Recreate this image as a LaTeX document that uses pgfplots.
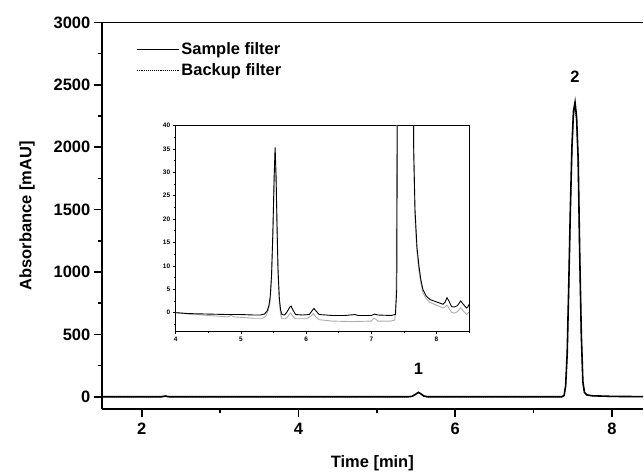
\documentclass[border=0pt]{standalone}
\usepackage{fontspec}
\setmainfont{Liberation Sans}
\usepackage{pgfplots}
\pgfplotsset{compat=1.18}
\usepackage{pgfplotstable}

\pgfplotstableread{
x y
1.50 0
2.25 0
2.30 6
2.35 0
4.00 0
5.40 0
5.45 4
5.50 22
5.53 35
5.56 25
5.60 6
5.65 0
7.36 0
7.39 10
7.41 88
7.43 350
7.45 900
7.47 1500
7.49 2000
7.51 2290
7.53 2360
7.55 2240
7.57 1900
7.59 1130
7.61 500
7.63 120
7.65 35
7.68 15
7.75 8
8.00 3
8.40 1
}\mainsample

\pgfplotstableread{
x y
1.50 -2
2.25 -2
2.30 3
2.35 -2
4.00 -2
5.40 -2
5.45 2
5.50 20
5.53 34
5.56 23
5.60 4
5.65 -2
7.36 -2
7.39 8
7.41 80
7.43 330
7.45 870
7.47 1460
7.49 1950
7.51 2250
7.53 2310
7.55 2200
7.57 1850
7.59 1100
7.61 480
7.63 110
7.65 33
7.68 13
7.75 6
8.00 1
8.40 0
}\mainbackup

\pgfplotstableread{
x y
4.00 0.0
4.20 -0.2
4.50 -0.3
4.80 -0.4
5.00 -0.4
5.20 -0.5
5.30 -0.5
5.36 -0.3
5.40 0.3
5.43 1.5
5.45 3.5
5.47 8
5.49 17
5.51 29
5.525 35.3
5.54 29
5.555 18
5.57 9
5.59 3
5.61 0.5
5.63 -0.4
5.67 -0.5
5.71 0.2
5.75 1.2
5.77 1.4
5.80 0.5
5.84 -0.4
5.95 -0.5
6.05 -0.4
6.09 0.4
6.12 0.9
6.15 0.4
6.20 -0.4
6.40 -0.6
6.60 -0.6
6.75 -0.4
6.80 -0.6
7.00 -0.6
7.05 -0.3
7.10 -0.5
7.30 -0.6
7.37 -0.4
7.39 5
7.41 88
7.63 120
7.65 35
7.67 22
7.70 14
7.73 10
7.76 7
7.79 5
7.84 3.6
7.90 2.8
8.00 2.3
8.10 1.8
8.13 2.2
8.16 3.2
8.19 2.5
8.23 1.3
8.27 1.2
8.32 1.5
8.37 2.5
8.41 1.8
8.46 1.0
8.48 1.2
8.50 1.8
}\insetsample

\pgfplotstableread{
x y
4.00 0.0
4.30 -0.4
4.60 -0.7
4.80 -0.9
4.85 -0.6
4.90 -0.9
5.00 -1.0
5.20 -1.2
5.33 -1.2
5.38 -0.8
5.42 0.5
5.45 2.5
5.47 7
5.49 16
5.51 28
5.525 34.5
5.54 28
5.555 17
5.57 8
5.59 2
5.61 -0.5
5.63 -1.3
5.68 -1.3
5.72 -0.8
5.76 -0.1
5.79 -0.6
5.83 -1.3
6.00 -1.3
6.07 -0.8
6.11 -0.2
6.15 -0.9
6.20 -1.5
6.40 -1.8
6.70 -1.9
7.00 -1.8
7.04 -1.2
7.07 -1.4
7.10 -1.8
7.30 -1.8
7.36 -1.6
7.38 3
7.40 60
7.63 110
7.65 33
7.67 20
7.70 13
7.73 9
7.76 6.3
7.79 4.3
7.84 3.0
7.90 2.2
8.00 1.6
8.10 1.0
8.13 1.2
8.16 1.6
8.19 1.0
8.23 0.1
8.27 -0.1
8.32 0.2
8.37 1.0
8.41 0.4
8.46 -0.4
8.50 0.1
}\insetbackup

\begin{document}
\begin{tikzpicture}
\begin{axis}[
  at={(0pt,0pt)}, anchor=south west,
  scale only axis,
  width=542pt, height=387.5pt,
  xmin=1.49, xmax=8.395,
  ymin=-100, ymax=3000,
  axis x line*=bottom, axis y line*=left,
  axis line style={-, line width=1.5pt},
  tick align=outside,
  major tick length=8pt, minor tick length=4pt,
  every tick/.style={black, line width=1.5pt},
  xtick={2,4,6,8}, minor xtick={3,5,7},
  ytick={0,500,...,3000}, minor ytick={250,750,...,2750},
  /pgf/number format/assume math mode=true,
  /pgf/number format/1000 sep={},
  tick label style={font=\bfseries\fontsize{16.5}{18}\selectfont},
  xticklabel style={yshift=-2pt},
  label style={font=\bfseries\fontsize{16.5}{19}\selectfont},
  xlabel={Time [min]},
  ylabel={Absorbance [mAU]},
  xlabel shift=14pt,
  ylabel shift=12pt,
  legend style={at={(axis description cs:0,1)}, anchor=north west,
    xshift=33pt, yshift=-17pt, draw=none, fill=none,
    font=\bfseries\fontsize{16.5}{19}\selectfont,
    row sep=4pt, inner sep=1pt},
  legend cell align=left,
  legend image code/.code={\draw[#1] (0pt,0pt) -- (42pt,0pt);},
  clip=false,
]
\addplot[black, line width=1.6pt] table[x=x,y=y] {\mainsample};
\addlegendentry{Sample filter}
\addplot[black, line width=0.9pt, densely dotted] table[x=x,y=y] {\mainbackup};
\addlegendentry{Backup filter}
\draw[line width=1.5pt] (rel axis cs:0,1) -- (rel axis cs:1,1);
\node[font=\bfseries\fontsize{16.5}{19}\selectfont] at (axis cs:5.53,220) {1};
\node[font=\bfseries\fontsize{16.5}{19}\selectfont] at (axis cs:7.53,2566) {2};
\end{axis}

\begin{axis}[
  at={(74pt,78pt)}, anchor=south west,
  scale only axis,
  width=294pt, height=206.3pt,
  xmin=4, xmax=8.5, ymin=-4, ymax=40,
  axis line style={line width=0.9pt},
  tick align=outside,
  major tick length=3pt, minor tick length=1.8pt,
  every tick/.style={black, line width=0.7pt},
  xtick={4,5,6,7,8}, minor xtick={4.5,5.5,6.5,7.5,8.5},
  ytick={0,5,...,40}, minor ytick={-2.5,2.5,7.5,...,37.5},
  xtick pos=bottom, ytick pos=left,
  /pgf/number format/assume math mode=true,
  tick label style={font=\bfseries\fontsize{6.5}{7}\selectfont},
  xticklabel style={yshift=1pt},
  yticklabel style={xshift=1pt},
]
\addplot[gray!65, line width=0.9pt] table[x=x,y=y] {\insetbackup};
\addplot[black, line width=0.9pt] table[x=x,y=y] {\insetsample};
\end{axis}
\path[use as bounding box] (-102pt,-61pt) rectangle (542pt,410pt);
\end{tikzpicture}
\end{document}
